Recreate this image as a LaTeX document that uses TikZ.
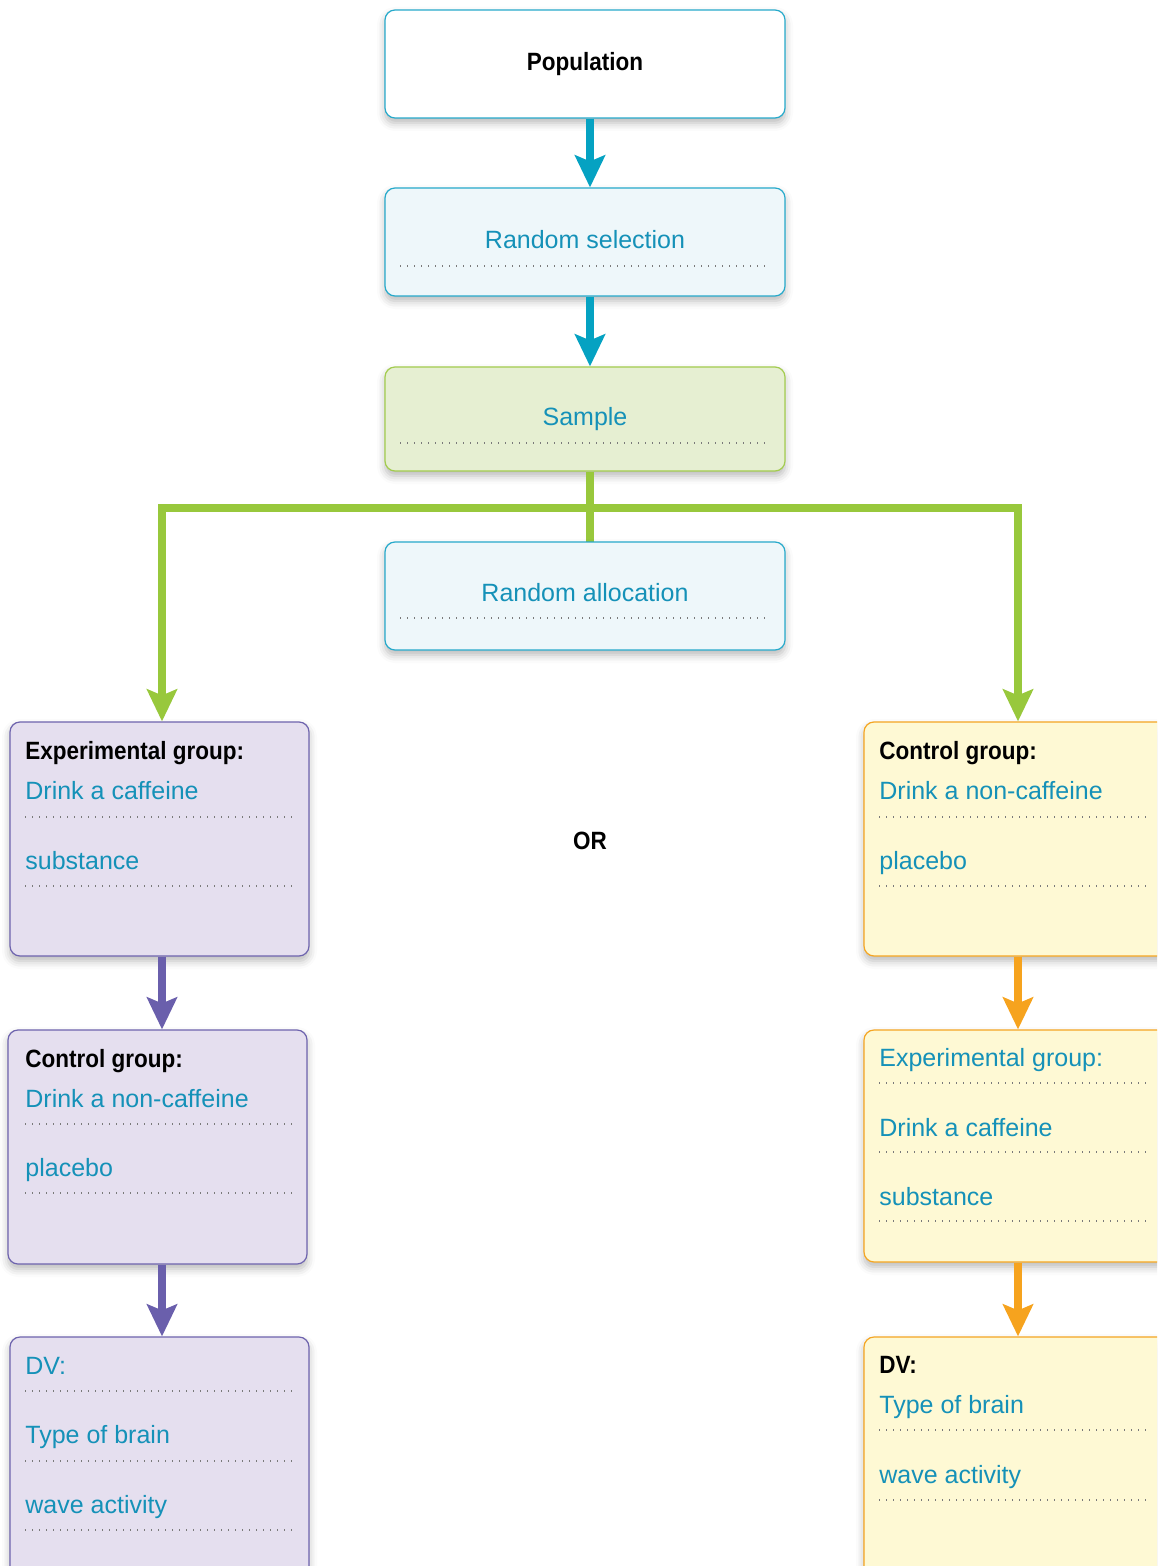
\documentclass[tikz,border=0pt]{standalone}
\usepackage{fontspec}
\setmainfont{Liberation Sans}
\newfontfamily\headfont[FakeStretch=0.9]{Liberation Sans}
\usetikzlibrary{arrows.meta,calc,shadows.blur}

\definecolor{tealline}{HTML}{27AACB}
\definecolor{tealarrow}{HTML}{05A2C2}
\definecolor{tealtext}{HTML}{1591B8}
\definecolor{tealfill}{HTML}{EEF7FA}
\definecolor{greenline}{HTML}{A3CC4F}
\definecolor{greenarrow}{HTML}{98C83C}
\definecolor{greenfill}{HTML}{E6EFD2}
\definecolor{purpleline}{HTML}{6E64AE}
\definecolor{purplearrow}{HTML}{6A5FAC}
\definecolor{purplefill}{HTML}{E5DFEF}
\definecolor{orangeline}{HTML}{F5A623}
\definecolor{orangearrow}{HTML}{F6A31E}
\definecolor{orangefill}{HTML}{FEF9D4}
\definecolor{dotgray}{HTML}{7A7A7A}

\tikzset{
  box/.style={draw, line width=0.6pt, rounded corners=5pt, inner sep=0pt,
    blur shadow={shadow xshift=0pt, shadow yshift=-2.5pt, shadow blur radius=4pt, shadow opacity=28}},
  tealbox/.style={box, draw=tealline, fill=tealfill, minimum width=200pt, minimum height=54pt},
  leftbox/.style={box, draw=purpleline, fill=purplefill, minimum width=149.5pt},
  rightbox/.style={box, draw=orangeline, fill=orangefill, minimum width=153pt},
  flow/.style={line width=4pt, -{Stealth[length=16pt, width=15pt, inset=3pt]}},
  label/.style={anchor=base west, inner sep=0pt, font=\fontsize{12.5}{15}\selectfont, text=tealtext},
  head/.style={anchor=base west, inner sep=0pt, font=\headfont\bfseries\fontsize{12.5}{15}\selectfont, text=black},
  centered/.style={anchor=base, inner sep=0pt, font=\fontsize{12.5}{15}\selectfont, text=tealtext},
  rule/.style={dotgray, line width=0.6pt, dash pattern=on 0.6pt off 2.9pt}
}

\begin{document}
\begin{tikzpicture}[x=0.5pt, y=-0.5pt]
\useasboundingbox (0,0) rectangle (1157,1566);
\clip (0,0) rectangle (1157,1566);

% central column
\node[tealbox, fill=white] (pop) at (585,64) {};
\node[tealbox] (rsel) at (585,242) {};
\node[box, draw=greenline, fill=greenfill, minimum width=200pt, minimum height=52pt] (samp) at (585,419) {};

% branching connectors from the sample
\coordinate (split) at (590,508);
\draw[greenarrow, line width=3.6pt] ($(samp.south)+(5,0)$) -- ($(samp.south)+(5,71)$);
\node[tealbox] (ralloc) at (585,596) {};

% left column
\node[leftbox, minimum height=117pt] (L1) at (159.5,839) {};
\node[leftbox, minimum height=117pt] (L2) at (157.5,1147) {};
\node[leftbox, minimum height=131.5pt] (L3) at (159.5,1468.5) {};

% right column
\node[rightbox, minimum height=117pt] (R1) at (1017,839) {};
\node[rightbox, minimum height=116pt] (R2) at (1017,1146) {};
\node[rightbox, minimum height=131.5pt] (R3) at (1017,1468.5) {};

% arrows
\draw[flow, tealarrow] ($(pop.south)+(5,0)$) -- ($(rsel.north)+(5,0)$);
\draw[flow, tealarrow] ($(rsel.south)+(5,0)$) -- ($(samp.north)+(5,0)$);
\draw[flow, greenarrow, line width=3.6pt] (split) -| ($(L1.north)+(2.5,0)$);
\draw[flow, greenarrow, line width=3.6pt] (split) -| ($(R1.north)+(1,0)$);
\draw[flow, purplearrow] ($(L1.south)+(2.5,0)$) -- ($(L2.north)+(4.5,0)$);
\draw[flow, purplearrow] ($(L2.south)+(4.5,0)$) -- ($(L3.north)+(2.5,0)$);
\draw[flow, orangearrow] ($(R1.south)+(1,0)$) -- ($(R2.north)+(1,0)$);
\draw[flow, orangearrow] ($(R2.south)+(1,0)$) -- ($(R3.north)+(1,0)$);

% central texts
\node[head, anchor=base] (tpop) at (585,71) {Population};
\node[centered] (trsel) at (585,249) {Random selection};
\draw[rule] (400,266) -- (770,266);
\node[centered] (tsamp) at (585,426) {Sample};
\draw[rule] (400,443) -- (770,443);
\node[centered] (tralloc) at (585,601) {Random allocation};
\draw[rule] (400,618) -- (770,618);
\node[head, anchor=base] (tor) at (590,849) {OR};

% left column texts
\node[head] (l1a) at (25,759) {Experimental group:};
\node[label] (l1b) at (25,799) {Drink a caffeine};
\draw[rule] (25,817) -- (293,817);
\node[label] (l1c) at (25,869) {substance};
\draw[rule] (25,886) -- (293,886);

\node[head] (l2a) at (25,1067) {Control group:};
\node[label] (l2b) at (25,1107) {Drink a non-caffeine};
\draw[rule] (25,1124) -- (293,1124);
\node[label] (l2c) at (25,1176) {placebo};
\draw[rule] (25,1193) -- (293,1193);

\node[label] (l3a) at (25,1374) {DV:};
\draw[rule] (25,1391) -- (293,1391);
\node[label] (l3b) at (25,1443) {Type of brain};
\draw[rule] (25,1461) -- (293,1461);
\node[label] (l3c) at (25,1513) {wave activity};
\draw[rule] (25,1530) -- (293,1530);

% right column texts
\node[head] (r1a) at (879,759) {Control group:};
\node[label] (r1b) at (879,799) {Drink a non-caffeine};
\draw[rule] (879,817) -- (1147,817);
\node[label] (r1c) at (879,869) {placebo};
\draw[rule] (879,886) -- (1147,886);

\node[label] (r2a) at (879,1066) {Experimental group:};
\draw[rule] (879,1083) -- (1147,1083);
\node[label] (r2b) at (879,1136) {Drink a caffeine};
\draw[rule] (879,1152) -- (1147,1152);
\node[label] (r2c) at (879,1205) {substance};
\draw[rule] (879,1221) -- (1147,1221);

\node[head] (r3a) at (879,1373) {DV:};
\node[label] (r3b) at (879,1413) {Type of brain};
\draw[rule] (879,1430) -- (1147,1430);
\node[label] (r3c) at (879,1483) {wave activity};
\draw[rule] (879,1500) -- (1147,1500);
\end{tikzpicture}
\end{document}
